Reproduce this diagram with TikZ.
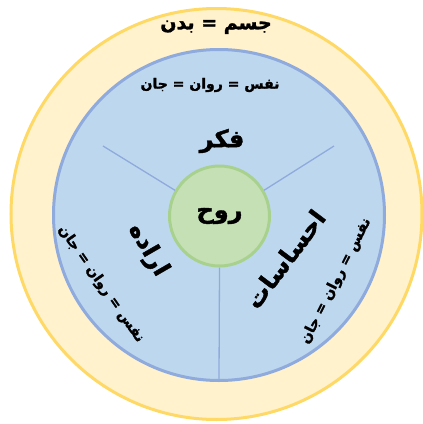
\documentclass[tikz,border=0pt]{standalone}
\usepackage{fontspec}
\usepackage{tikz}
\usetikzlibrary{positioning}
\TeXXeTstate=1
\newfontfamily\fafont[Script=Arabic, BoldFeatures={FakeBold=1.6}]{DejaVu Sans}
\definecolor{bodyFill}{HTML}{FFF2CC}
\definecolor{bodyLine}{HTML}{FFD966}
\definecolor{soulFill}{HTML}{BDD7EE}
\definecolor{soulLine}{HTML}{8FAADC}
\definecolor{spiritFill}{HTML}{C5E0B4}
\definecolor{spiritLine}{HTML}{A9D18E}
\newcommand{\fa}[1]{\fafont\bfseries\beginR #1\endR}

\begin{document}
\begin{tikzpicture}[
    x=1pt, y=-1pt,
    bodyRing/.style={
        circle, draw=bodyLine, fill=bodyFill, line width=3pt,
        minimum size=411pt, inner sep=0pt
    },
    soulRing/.style={
        circle, draw=soulLine, fill=soulFill, line width=3pt,
        minimum size=331pt, inner sep=0pt
    },
    spiritRing/.style={
        circle, draw=spiritLine, fill=spiritFill, line width=3pt,
        minimum size=100pt, inner sep=0pt
    },
    spokeLine/.style={
        draw=soulLine, line width=1.3pt
    },
    bigLabel/.style={
        font=\fontsize{24}{26}\selectfont, inner sep=1pt
    },
    smallLabel/.style={
        font=\fontsize{14}{16}\selectfont, inner sep=1pt
    },
    titleLabel/.style={
        font=\fontsize{19}{21}\selectfont, inner sep=1pt
    }
]
\useasboundingbox (0,0) rectangle (423,424);

% Outer ring: body
\node[bodyRing] (body) at (216.5,214) {};

% Middle ring: soul
\node[soulRing] (soul) at (219,215) {};

% Spokes between the three faculties
\coordinate (spokeA) at (103,146);
\coordinate (spokeB) at (334,146);
\coordinate (spokeC) at (219,381);

% Inner ring: spirit
\node[spiritRing] (spirit) at (219.5,216) {};

\draw[spokeLine] (spirit.150) -- (spokeA);
\draw[spokeLine] (spirit.30) -- (spokeB);
\draw[spokeLine] (spirit.south) -- (spokeC);

% Labels
\node[titleLabel] (bodyText) at (216,27) {\fa{جسم = بدن}};
\node[smallLabel] (soulTop) at (210,85) {\fa{نفس = روان = جان}};
\node[smallLabel, rotate=-55] (soulLeft) at (101,284) {\fa{نفس = روان = جان}};
\node[smallLabel, rotate=63] (soulRight) at (336,281) {\fa{نفس = روان = جان}};

\node[bigLabel] (spiritText) at (spirit) {\fa{روح}};
\node[bigLabel] (thought) at (222,141) {\fa{فکر}};
\node[bigLabel, rotate=-60] (will) at (148,250) {\fa{اراده}};
\node[bigLabel, rotate=53] (feeling) at (285,259) {\fa{احساسات}};

\end{tikzpicture}
\end{document}
